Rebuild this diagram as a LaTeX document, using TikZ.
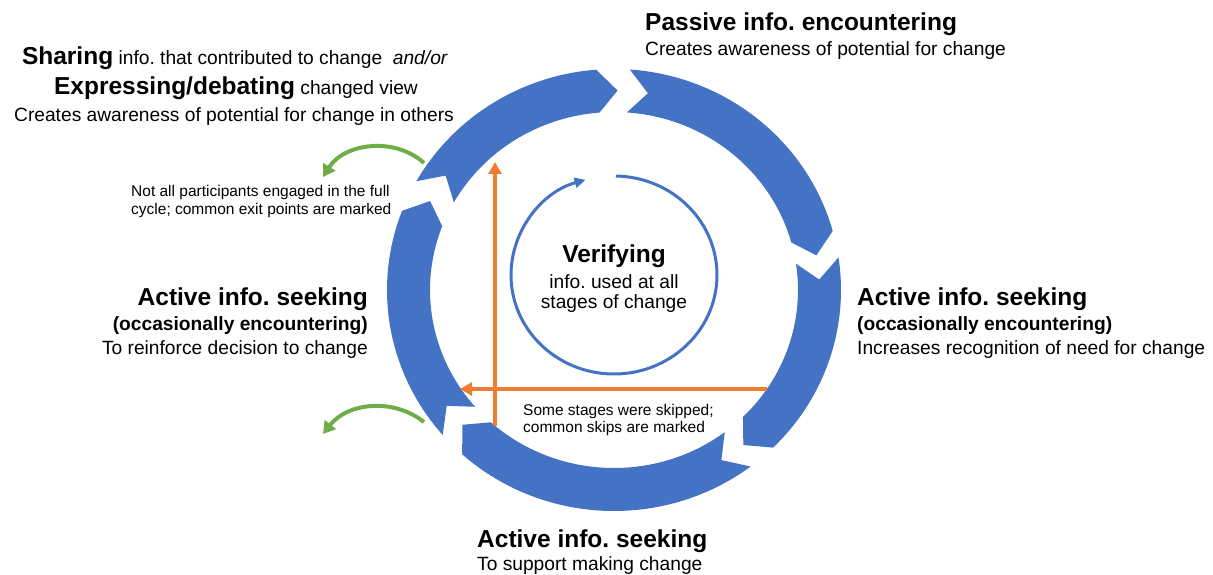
\documentclass[tikz,border=0pt]{standalone}
\usepackage{fontspec}
\setmainfont{Liberation Sans}
\usetikzlibrary{arrows.meta}
\definecolor{ringblue}{RGB}{68,114,196}
\definecolor{skiporange}{RGB}{237,125,49}
\definecolor{exitgreen}{RGB}{112,173,71}
\newcommand{\bighead}[1]{{\fontsize{24.5}{29}\selectfont\bfseries #1}}
\frenchspacing

\begin{document}
\begin{tikzpicture}[
	x=1pt, y=1pt,
	heading/.style={font=\fontsize{24.5}{29}\selectfont\bfseries, inner sep=0},
	subheading/.style={font=\fontsize{19.2}{23}\selectfont\bfseries, inner sep=0},
	bodytext/.style={font=\fontsize{19.2}{23}\selectfont, inner sep=0},
	notetext/.style={font=\fontsize{15.5}{19}\selectfont, inner sep=0},
	segment/.style={fill=ringblue},
	verifyline/.style={ringblue, line width=3pt, -{Triangle[length=11pt, width=10pt]}},
	skiparrow/.style={skiporange, line width=4pt, -{Triangle[length=12pt, width=13pt]}},
	exitarrow/.style={exitgreen, line width=4pt, -{Triangle[length=12pt, width=14pt]}}
]
\useasboundingbox (0, 0) rectangle (1213, 574);

\begin{scope}[shift={(614, 284)}]
% Cycle
\foreach \t/\h in {86/15.5, 8.5/-45.5, -53/-132, -139/-201, -209.5/-265.5}
	\fill[segment] (\t:227 and 221) arc[start angle=\t, end angle=\h, x radius=227, y radius=221]
		-- (\h-5.5:205.5 and 199.5) -- (\h:184 and 178)
		arc[start angle=\h, end angle=\t, x radius=184, y radius=178]
		-- (\t-5.5:205.5 and 199.5) -- cycle;

% Verifying
\draw[verifyline] (0, 15) ++(89:103 and 99) arc[start angle=89, end angle=-254, x radius=103, y radius=99];

% Skips
\coordinate (skipVs) at (-119, -136);
\coordinate (skipVe) at (-119, 128);
\coordinate (skipHs) at (153, -99);
\coordinate (skipHe) at (-154, -99);
\draw[skiparrow] (skipVs) -- (skipVe);
\draw[skiparrow] (skipHs) -- (skipHe);

% Exits
\coordinate (exitAs) at (-190, 127);
\coordinate (exitAe) at (-291, 113);
\coordinate (exitBs) at (-190, -132);
\coordinate (exitBe) at (-291, -144);
\draw[exitarrow] (exitAs) to[bend right=50] (exitAe);
\draw[exitarrow] (exitBs) to[bend right=45] (exitBe);
\end{scope}

% Stages
\node[heading, anchor=base west] (passive) at (645, 543) {Passive info. encountering};
\node[bodytext, anchor=base west] (passivetxt) at (645, 518) {Creates awareness of potential for change};

\node[bodytext, anchor=base] (sharing) at (235, 509) {\bighead{Sharing} info. that contributed to change\ \ \textit{and/or}};
\node[bodytext, anchor=base] (expressing) at (236, 479) {\bighead{Expressing/debating} changed view};
\node[bodytext, anchor=base] (sharingtxt) at (234, 452) {Creates awareness of potential for change in others};

\node[heading, anchor=base east] (seekL) at (368, 269) {Active info. seeking};
\node[subheading, anchor=base east] (occL) at (368, 244) {(occasionally encountering)};
\node[bodytext, anchor=base east] (seekLtxt) at (368, 220) {To reinforce decision to change};

\node[heading, anchor=base west] (seekR) at (857, 269) {Active info. seeking};
\node[subheading, anchor=base west] (occR) at (857, 244) {(occasionally encountering)};
\node[bodytext, anchor=base west] (seekRtxt) at (857, 220) {Increases recognition of need for change};

\node[heading, anchor=base west] (seekB) at (477, 27) {Active info. seeking};
\node[bodytext, anchor=base west] (seekBtxt) at (477, 4) {To support making change};

\node[heading, anchor=base] (verify) at (614, 312) {Verifying};
\node[bodytext, anchor=base] (verifytxtA) at (614, 286) {info. used at all};
\node[bodytext, anchor=base] (verifytxtB) at (614, 266) {stages of change};

% Notes
\node[notetext, anchor=base west] (skipnoteA) at (523, 159) {Some stages were skipped;};
\node[notetext, anchor=base west] (skipnoteB) at (523, 142) {common skips are marked};
\node[notetext, anchor=base west] (exitnoteA) at (131, 377) {Not all participants engaged in the full};
\node[notetext, anchor=base west] (exitnoteB) at (131, 359) {cycle; common exit points are marked};
\end{tikzpicture}
\end{document}
